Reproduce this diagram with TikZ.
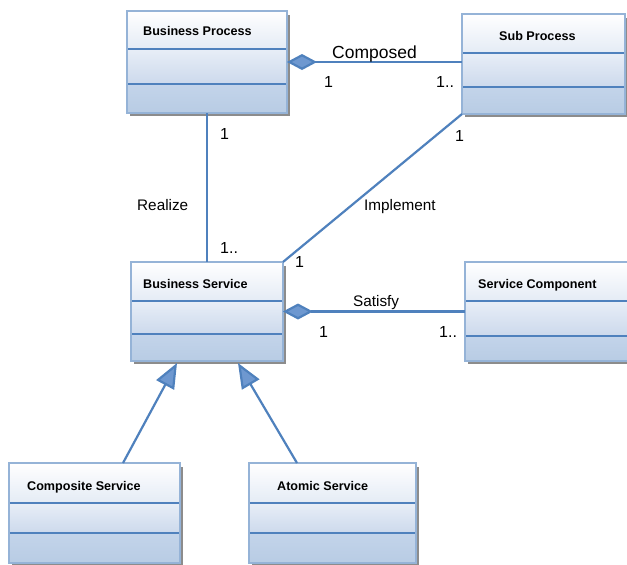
\documentclass[tikz,border=0pt]{standalone}
\usepackage{fontspec}
\setmainfont{Liberation Sans}
\usetikzlibrary{arrows.meta,fit}
\definecolor{conn}{HTML}{4F81BD}
\definecolor{bord}{HTML}{95B3D7}
\definecolor{hdrtop}{HTML}{FFFFFF}
\definecolor{hdrbot}{HTML}{E4EBF5}
\definecolor{midtop}{HTML}{E8EEF7}
\definecolor{midbot}{HTML}{CCD9EC}
\definecolor{lowtop}{HTML}{C3D4EA}
\definecolor{lowbot}{HTML}{B8CCE4}
\definecolor{shad}{HTML}{8C8C8C}
\definecolor{headfill}{HTML}{6E98D0}
\tikzset{
  divider/.style={draw=conn,line width=2pt},
  boxborder/.style={draw=bord,line width=2.2pt},
  connline/.style={draw=conn,line width=2.2pt},
  titletext/.style={font=\fontsize{12.6}{15}\selectfont\bfseries,inner sep=0pt,anchor=base west},
  lbl/.style={font=\fontsize{15.3}{18}\selectfont,inner sep=0pt,anchor=base west},
  multlbl/.style={font=\fontsize{16}{19}\selectfont,inner sep=0pt,anchor=base west},
}
\newcommand\umlbox[7]{%
  \fill[shad] (#2+3,#3+4) rectangle (#4+3,#5+3);
  \shade[top color=hdrtop,bottom color=hdrbot] (#2,#3) rectangle (#4,#6);
  \shade[top color=midtop,bottom color=midbot] (#2,#6) rectangle (#4,#7);
  \shade[top color=lowtop,bottom color=lowbot] (#2,#7) rectangle (#4,#5);
  \draw[divider] (#2,#6) -- (#4,#6);
  \draw[divider] (#2,#7) -- (#4,#7);
  \draw[boxborder] (#2,#3) rectangle (#4,#5);
  \node[fit={(#2,#3) (#4,#5)},inner sep=0pt,outer sep=0pt] (#1) {};
}
\begin{document}
\begin{tikzpicture}[x=1pt,y=-1pt]
\useasboundingbox (0,0) rectangle (627,565);
\clip (0,0) rectangle (627,565);
\fill[white] (0,0) rectangle (627,565);

% boxes
\umlbox{bp}{127}{11}{287}{113}{49}{84}
\umlbox{sp}{462}{14}{625}{114}{53}{87}
\umlbox{bs}{131}{262}{283}{361}{301}{334}
\umlbox{sc}{465}{262}{634}{361}{301}{336}
\umlbox{cs}{9}{463}{180}{563}{503}{533}
\umlbox{as}{249}{463}{416}{563}{503}{533}

\node[titletext] (bpT) at (143,35) {Business Process};
\node[titletext] (spT) at (499,40) {Sub Process};
\node[titletext] (bsT) at (143,288) {Business Service};
\node[titletext] (scT) at (478,288) {Service Component};
\node[titletext] (csT) at (27,490) {Composite Service};
\node[titletext] (asT) at (277,490) {Atomic Service};

% Composed
\draw[connline,{Diamond[length=30pt,width=16pt,fill=headfill]}-] (bp.east) -- (bp.east -| sp.west);
\node[font=\fontsize{17.5}{20}\selectfont,inner sep=0pt,anchor=base west] (lComposed) at (332,58) {Composed};
\node[multlbl] (m1) at (324,87) {1};
\node[multlbl] (m2) at (436,87) {1..};

% Realize
\draw[connline] (bp.south) -- (bs.north);
\node[lbl] (lRealize) at (137,210) {Realize};
\node[multlbl] (m3) at (220,139) {1};
\node[multlbl] (m4) at (220,253) {1..};

% Implement
\draw[connline] (sp.south west) -- (bs.north east);
\node[lbl] (lImplement) at (364,210) {Implement};
\node[multlbl] (m5) at (455,141) {1};
\node[multlbl] (m6) at (295,267) {1};

% Satisfy
\draw[connline,{Diamond[length=30pt,width=16pt,fill=headfill]}-] (bs.east) -- (bs.east -| sc.west);
\node[lbl] (lSatisfy) at (353,306) {Satisfy};
\node[multlbl] (m7) at (319,337) {1};
\node[multlbl] (m8) at (439,337) {1..};

% Generalizations
\coordinate (csTop) at (123,463);
\coordinate (bsG1) at (177,363);
\coordinate (asTop) at (297,463);
\coordinate (bsG2) at (238,363);
\draw[connline,-{Triangle[length=25pt,width=20pt,fill=headfill]}] (csTop) -- (bsG1);
\draw[connline,-{Triangle[length=25pt,width=20pt,fill=headfill]}] (asTop) -- (bsG2);
\end{tikzpicture}
\end{document}
